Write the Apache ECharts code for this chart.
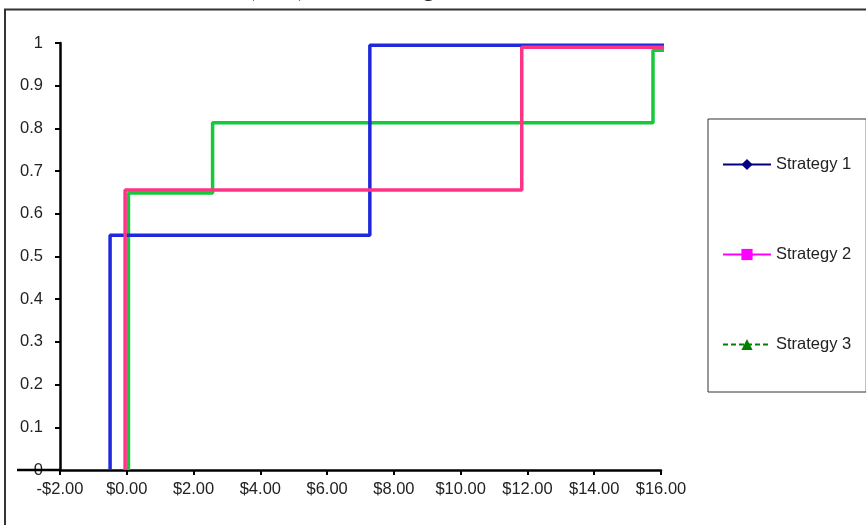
<!DOCTYPE html>
<html>
<head>
<meta charset="utf-8">
<script src="https://cdn.jsdelivr.net/npm/echarts@6/dist/echarts.min.js"></script>
<style>
  html, body { margin: 0; padding: 0; background: #fff; }
  #chart { width: 866px; height: 525px; }
</style>
</head>
<body>
<div id="chart"></div>
<script>
// Cumulative risk profile: payoff where each jump happens, and the cumulative probability after it
const strategyNames = ['Strategy 1', 'Strategy 2', 'Strategy 3'];
const s1Jumps = [-0.5, 7.28];
const s1Cum = [0.55, 0.995];
const s2Jumps = [-0.05, 11.83];
const s2Cum = [0.656, 0.99];
const s3Jumps = [0.05, 2.57, 15.76];
const s3Cum = [0.649, 0.813, 0.983];
const payoffEnd = 16.2;

const xTicks = [-2, 0, 2, 4, 6, 8, 10, 12, 14, 16];
const yTicks = [0, 0.1, 0.2, 0.3, 0.4, 0.5, 0.6, 0.7, 0.8, 0.9, 1];

const captionLead = 'Draw the Cumulative Risk Profile ';
const captionTail = '(CRP) for all strategies as shown below.';

// step points: start at zero at the first jump, then each level held until the next jump
function stepPoints(jumps, cum) {
  const pts = [[jumps[0], 0]];
  jumps.forEach((x, i) => pts.push([x, cum[i]]));
  pts.push([payoffEnd, cum[cum.length - 1]]);
  return pts;
}

function money(v) {
  const s = '$' + Math.abs(v).toFixed(2);
  return v < 0 ? '-' + s : s;
}

const font = 'Liberation Sans, Arial, sans-serif';
const chart = echarts.init(document.getElementById('chart'), null, { renderer: 'canvas' });

const lineColors = ['#1f28dc', '#ff3386', '#16c83a'];
const legendColors = ['#000080', '#ff00ff', '#008000'];

chart.setOption({
  animation: false,
  backgroundColor: '#ffffff',
  grid: { left: 60, right: 205, top: 43, bottom: 55 },
  xAxis: {
    type: 'value',
    min: xTicks[0],
    max: xTicks[xTicks.length - 1],
    interval: 2,
    splitLine: { show: false },
    axisLine: { onZero: false, lineStyle: { color: '#000', width: 2.5 } },
    axisTick: { show: true, length: 5, lineStyle: { color: '#000', width: 2 } },
    axisLabel: { color: '#222', fontFamily: font, fontSize: 16.5, margin: 11, formatter: money }
  },
  yAxis: {
    type: 'value',
    min: yTicks[0],
    max: yTicks[yTicks.length - 1],
    interval: 0.1,
    splitLine: { show: false },
    axisLine: { show: true, onZero: false, lineStyle: { color: '#000', width: 2.5 } },
    axisTick: { show: true, length: 5, lineStyle: { color: '#000', width: 2 } },
    axisLabel: {
      color: '#222', fontFamily: font, fontSize: 16.5, margin: 17,
      formatter: v => String(Math.round(v * 10) / 10)
    }
  },
  legend: {
    orient: 'vertical',
    left: 708,
    top: 119,
    padding: [37, 15, 39, 14],
    itemGap: 73,
    itemWidth: 48,
    itemHeight: 14,
    borderColor: '#333',
    borderWidth: 1,
    backgroundColor: '#fff',
    textStyle: { color: '#222', fontFamily: font, fontSize: 16.5 },
    data: [
      { name: strategyNames[0],
        itemStyle: { color: legendColors[0] }, lineStyle: { color: legendColors[0], width: 2, type: 'solid' } },
      { name: strategyNames[1],
        itemStyle: { color: legendColors[1] }, lineStyle: { color: legendColors[1], width: 2, type: 'solid' } },
      { name: strategyNames[2],
        itemStyle: { color: legendColors[2] }, lineStyle: { color: legendColors[2], width: 2, type: [5, 3] } }
    ]
  },
  series: [
    { name: strategyNames[2], type: 'line', step: 'end', symbol: 'triangle', showSymbol: false,
      clip: false, z: 2,
      data: stepPoints(s3Jumps, s3Cum), lineStyle: { color: lineColors[2], width: 3.5 },
      itemStyle: { color: lineColors[2] } },
    { name: strategyNames[0], type: 'line', step: 'end', symbol: 'diamond', showSymbol: false,
      clip: false, z: 3,
      data: stepPoints(s1Jumps, s1Cum), lineStyle: { color: lineColors[0], width: 3.5 },
      itemStyle: { color: lineColors[0] } },
    { name: strategyNames[1], type: 'line', step: 'end', symbol: 'rect', showSymbol: false,
      clip: false, z: 4,
      data: stepPoints(s2Jumps, s2Cum), lineStyle: { color: lineColors[1], width: 3.5 },
      itemStyle: { color: lineColors[1] } }
  ]
});

// frame, caption above it, and the stretch of the category axis left of the value axis
const origin = chart.convertToPixel({ gridIndex: 0 }, [xTicks[0], 0]);
const captionFont = '23px "Liberation Serif", serif';
chart.setOption({
  graphic: [
    { type: 'rect', z: -1, silent: true,
      shape: { x: 5, y: 9.5, width: 880, height: 540 },
      style: { fill: 'none', stroke: '#333', lineWidth: 2 } },
    { type: 'text', silent: true, x: 247, y: 1,
      style: { text: captionLead, fill: '#111', font: captionFont,
               align: 'right', verticalAlign: 'bottom' } },
    { type: 'text', silent: true, x: 247, y: 1,
      style: { text: captionTail, fill: '#111', font: captionFont,
               align: 'left', verticalAlign: 'bottom' } },
    { type: 'line', silent: true, z: 10,
      shape: { x1: 17, y1: origin[1], x2: origin[0], y2: origin[1] },
      style: { stroke: '#000', lineWidth: 2.5 } }
  ]
});
</script>
</body>
</html>
